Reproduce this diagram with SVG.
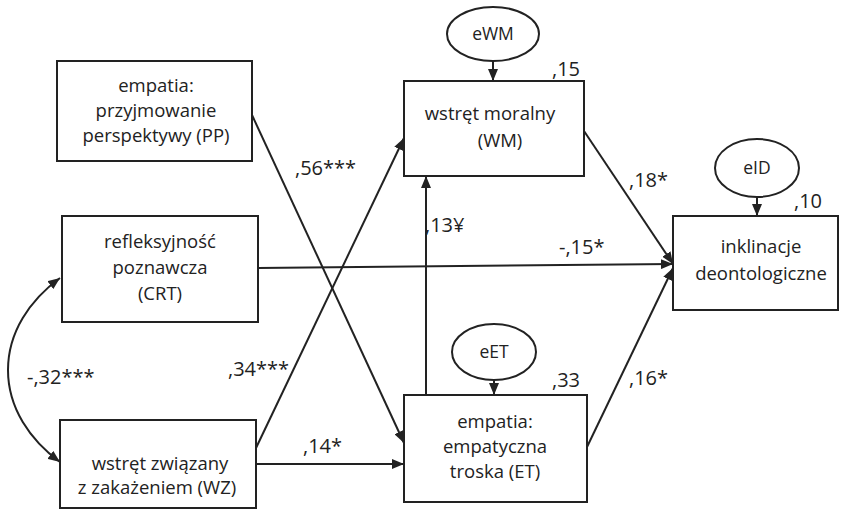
<svg xmlns="http://www.w3.org/2000/svg" width="841" height="526" viewBox="0 0 841 526">
  <style>
    .box { fill: #fff; stroke: #222; stroke-width: 2; }
    .err { fill: #fff; stroke: #222; stroke-width: 2; }
    .lbl { font-family: "Open Sans", "Liberation Sans", sans-serif; font-size: 18.5px; fill: #222; text-anchor: middle; }
    .elbl { font-family: "Open Sans", "Liberation Sans", sans-serif; font-size: 17.5px; fill: #222; text-anchor: middle; }
    .coef { font-family: "Open Sans", "Liberation Sans", sans-serif; font-size: 20px; fill: #222; }
    .path { fill: none; stroke: #222; stroke-width: 2; }
  </style>
  <defs>
    <marker id="arrow" viewBox="0 0 12 10" refX="12" refY="5" markerWidth="12" markerHeight="10" markerUnits="userSpaceOnUse" orient="auto-start-reverse">
      <path d="M0,0 L12,5 L0,10 Z" fill="#222"/>
    </marker>
  </defs>
  <rect width="841" height="526" fill="#fff"/>

  <!-- connectors -->
  <g id="connectors">
    <path class="path" d="M252,115 L404,443" marker-end="url(#arrow)"/>
    <path class="path" d="M256,448 L404,138" marker-end="url(#arrow)"/>
    <path class="path" d="M256,464 L404,464" marker-end="url(#arrow)"/>
    <path class="path" d="M258,268 L673,264" marker-end="url(#arrow)"/>
    <path class="path" d="M584,131 L673,264" marker-end="url(#arrow)"/>
    <path class="path" d="M587,447 L673,268" marker-end="url(#arrow)"/>
    <path class="path" d="M426,395 L426,176" marker-end="url(#arrow)"/>
    <path class="path" d="M60,278 C30,300 8,332 8,370 C8,408 30,440 60,462" marker-start="url(#arrow)" marker-end="url(#arrow)"/>
    <path class="path" d="M493,61 L493,81" marker-end="url(#arrow)"/>
    <path class="path" d="M494,380 L494,395" marker-end="url(#arrow)"/>
    <path class="path" d="M757,197 L757,216" marker-end="url(#arrow)"/>
  </g>

  <!-- path coefficients -->
  <g id="coefficients">
    <text class="coef" x="295" y="175">,56***</text>
    <text class="coef" x="228" y="376">,34***</text>
    <text class="coef" x="27" y="384">-,32***</text>
    <text class="coef" x="303" y="453">,14*</text>
    <text class="coef" x="425" y="232">,13¥</text>
    <text class="coef" x="559" y="254">-,15*</text>
    <text class="coef" x="629" y="187">,18*</text>
    <text class="coef" x="629" y="385">,16*</text>
    <text class="coef" x="552" y="76">,15</text>
    <text class="coef" x="552" y="387">,33</text>
    <text class="coef" x="794" y="208">,10</text>
  </g>

  <g id="PP">
    <rect class="box" x="57" y="61" width="195" height="100"/>
    <text class="lbl" x="156" y="92">empatia:</text>
    <text class="lbl" x="156" y="117">przyjmowanie</text>
    <text class="lbl" x="156" y="142">perspektywy (PP)</text>
  </g>

  <g id="CRT">
    <rect class="box" x="62" y="216" width="196" height="106"/>
    <text class="lbl" x="160" y="248">refleksyjność</text>
    <text class="lbl" x="160" y="274">poznawcza</text>
    <text class="lbl" x="160" y="300">(CRT)</text>
  </g>

  <g id="WZ">
    <rect class="box" x="60" y="420" width="196" height="88"/>
    <text class="lbl" x="160" y="470">wstręt związany</text>
    <text class="lbl" x="157" y="494">z zakażeniem (WZ)</text>
  </g>

  <g id="WM">
    <rect class="box" x="404" y="81" width="180" height="95"/>
    <text class="lbl" x="490" y="120">wstręt moralny</text>
    <text class="lbl" x="500" y="147">(WM)</text>
  </g>

  <g id="eWM">
    <ellipse class="err" cx="493" cy="34" rx="46" ry="27"/>
    <text class="elbl" x="493" y="40">eWM</text>
  </g>

  <g id="ET">
    <rect class="box" x="404" y="395" width="183" height="107"/>
    <text class="lbl" x="495" y="428">empatia:</text>
    <text class="lbl" x="495" y="453">empatyczna</text>
    <text class="lbl" x="495" y="478">troska (ET)</text>
  </g>

  <g id="eET">
    <ellipse class="err" cx="494" cy="352" rx="42" ry="28"/>
    <text class="elbl" x="494" y="358">eET</text>
  </g>

  <g id="ID">
    <rect class="box" x="673" y="216" width="165" height="94"/>
    <text class="lbl" x="761" y="253">inklinacje</text>
    <text class="lbl" x="761" y="280">deontologiczne</text>
  </g>

  <g id="eID">
    <ellipse class="err" cx="757" cy="168" rx="42" ry="29"/>
    <text class="elbl" x="757" y="174">eID</text>
  </g>
</svg>
